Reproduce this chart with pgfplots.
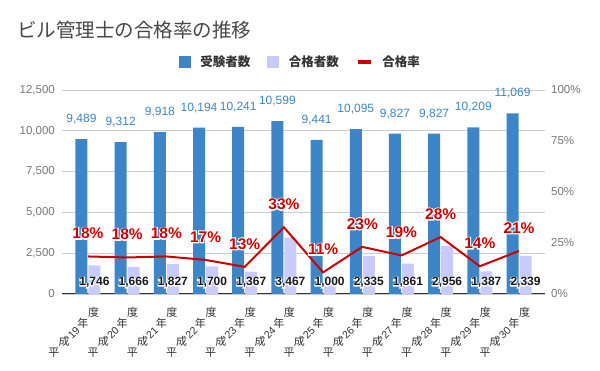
\documentclass[border=0pt]{standalone}
\usepackage{pgfplots}
\pgfplotsset{compat=1.18}
\usepackage{graphicx}
\usepackage{fontspec}
\setmainfont{Liberation Sans}
\newfontfamily\jp{Noto Sans CJK JP}
\newfontfamily\halo{Liberation Sans Bold}[FakeBold=15]
\definecolor{cblue}{HTML}{3D85C6}
\definecolor{clight}{HTML}{C9CBFF}
\definecolor{cred}{HTML}{CC0000}
\definecolor{cgrid}{HTML}{CCCCCC}
\definecolor{ctick}{HTML}{777777}
\definecolor{ctext}{HTML}{333333}
\newcommand\rc[1]{\rotatebox[origin=c]{-45}{\jp #1}}
\newcommand\xl[1]{\rc{平}\rc{成}{\fontsize{10.5}{11}\selectfont #1}\rc{年}\rc{度}}
\begin{document}
\begin{tikzpicture}
\useasboundingbox (0pt,0pt) rectangle (600pt,371pt);
\node[anchor=west, inner sep=0pt, font=\jp\fontsize{19.5}{20}\selectfont, text=ctext!90!white] at (17pt,340.5pt) {ビル管理士の合格率の推移};
\begin{axis}[
  at={(62pt,77pt)}, anchor=south west,
  scale only axis, width=483pt, height=204pt,
  xmin=-0.663, xmax=11.663, ymin=0, ymax=12500,
  scaled y ticks=false,
  ytick={0,2500,5000,7500,10000,12500},
  yticklabels={0,{2,500},{5,000},{7,500},{10,000},{12,500}},
  yticklabel style={font=\fontsize{11.5}{12}\selectfont, text=ctick, inner sep=0pt, xshift=-7pt},
  xtick={0,...,11},
  xticklabels={\xl{19},\xl{20},\xl{21},\xl{22},\xl{23},\xl{24},\xl{25},\xl{26},\xl{27},\xl{28},\xl{29},\xl{30}},
  xticklabel style={xshift=11pt, yshift=-13pt, rotate=45, anchor=east, inner sep=0pt, text=ctext, font=\fontsize{11}{11}\selectfont},
  axis line style={draw=none},
  major tick length=0pt,
  ymajorgrids, major grid style={cgrid, line width=0.8pt},
  extra y ticks={0}, extra y tick labels={},
  extra y tick style={major grid style={ctext, line width=1pt}},
  clip=false,
  legend columns=3,
  legend style={at={(0.4917,1.137)}, anchor=center, draw=none, fill=none,
    font=\jp\bfseries\fontsize{12.5}{13}\selectfont, text=ctext,
    nodes={inner sep=0pt},
    /tikz/every odd column/.append style={column sep=10pt},
    /tikz/every even column/.append style={column sep=17pt}},
]
\addlegendimage{legend image code/.code={\fill[cblue] (0pt,-5.5pt) rectangle (11pt,5.5pt);}}
\addlegendentry{受験者数}
\addlegendimage{legend image code/.code={\fill[clight] (0pt,-5.5pt) rectangle (11pt,5.5pt);}}
\addlegendentry{合格者数}
\addlegendimage{legend image code/.code={\draw[cred, line width=3.5pt] (0pt,0pt) -- (13pt,0pt);}}
\addlegendentry{合格率}
% 受験者数
\addplot[ybar, bar width=12pt, bar shift=-6.5pt, fill=cblue, draw=none, forget plot] table {
x y
0 9489
1 9312
2 9918
3 10194
4 10241
5 10599
6 9441
7 10095
8 9827
9 9827
10 10209
11 11069
};
% 合格者数
\addplot[ybar, bar width=12pt, bar shift=6.5pt, fill=clight, draw=none, forget plot] table {
x y
0 1746
1 1666
2 1827
3 1700
4 1367
5 3467
6 1000
7 2335
8 1861
9 2956
10 1387
11 2339
};
% 受験者数 labels
\addplot[draw=none, mark=none, forget plot, nodes near coords, point meta=explicit symbolic,
  every node near coord/.append style={anchor=center, xshift=-6.5pt, yshift=20pt, text=cblue, font=\fontsize{12}{12}\selectfont}]
  table[meta=l] {
x y l
0 9489 9,489
1 9312 9,312
2 9918 9,918
3 10194 10,194
4 10241 10,241
5 10599 10,599
6 9441 9,441
7 10095 10,095
8 9827 9,827
9 9827 9,827
10 10209 10,209
11 11069 11,069
};
% 合格者数 labels (halo then text)
\addplot[draw=none, mark=none, forget plot, nodes near coords, point meta=explicit symbolic,
  every node near coord/.append style={anchor=center, xshift=6.5pt, text=white, font=\halo\fontsize{12}{12}\selectfont}]
  table[meta=l] {
x y l
0 705 1,746
1 705 1,666
2 705 1,827
3 705 1,700
4 705 1,367
5 705 3,467
6 705 1,000
7 705 2,335
8 705 1,861
9 705 2,956
10 705 1,387
11 705 2,339
};
\addplot[draw=none, mark=none, forget plot, nodes near coords, point meta=explicit symbolic,
  every node near coord/.append style={anchor=center, xshift=6.5pt, text=black!90, font=\bfseries\fontsize{12}{12}\selectfont}]
  table[meta=l] {
x y l
0 705 1,746
1 705 1,666
2 705 1,827
3 705 1,700
4 705 1,367
5 705 3,467
6 705 1,000
7 705 2,335
8 705 1,861
9 705 2,956
10 705 1,387
11 705 2,339
};
\end{axis}
\begin{axis}[
  at={(62pt,77pt)}, anchor=south west,
  scale only axis, width=483pt, height=204pt,
  xmin=-0.663, xmax=11.663, ymin=0, ymax=1,
  xtick=\empty,
  ytick={0,0.25,0.5,0.75,1},
  yticklabels={0\%,25\%,50\%,75\%,100\%},
  yticklabel pos=right,
  yticklabel style={font=\fontsize{11.5}{12}\selectfont, text=ctick, inner sep=0pt, xshift=6pt},
  axis line style={draw=none},
  major tick length=0pt,
  clip=false,
]
\addplot[cred, line width=2pt, mark=none] table {
x y
0 0.184
1 0.179
2 0.184
3 0.167
4 0.133
5 0.327
6 0.106
7 0.231
8 0.189
9 0.279
10 0.136
11 0.211
};
\addplot[draw=none, mark=none, nodes near coords={\pgfplotspointmeta\%}, point meta=explicit symbolic,
  every node near coord/.append style={anchor=center, yshift=23pt, text=white, font=\halo\fontsize{15.5}{16}\selectfont}]
  table[meta=l] {
x y l
0 0.184 18
1 0.179 18
2 0.184 18
3 0.167 17
4 0.133 13
5 0.327 33
6 0.106 11
7 0.231 23
8 0.189 19
9 0.279 28
10 0.136 14
11 0.211 21
};
\addplot[draw=none, mark=none, nodes near coords={\pgfplotspointmeta\%}, point meta=explicit symbolic,
  every node near coord/.append style={anchor=center, yshift=23pt, text=cred, font=\bfseries\fontsize{15.5}{16}\selectfont}]
  table[meta=l] {
x y l
0 0.184 18
1 0.179 18
2 0.184 18
3 0.167 17
4 0.133 13
5 0.327 33
6 0.106 11
7 0.231 23
8 0.189 19
9 0.279 28
10 0.136 14
11 0.211 21
};
\end{axis}
\end{tikzpicture}
\end{document}
